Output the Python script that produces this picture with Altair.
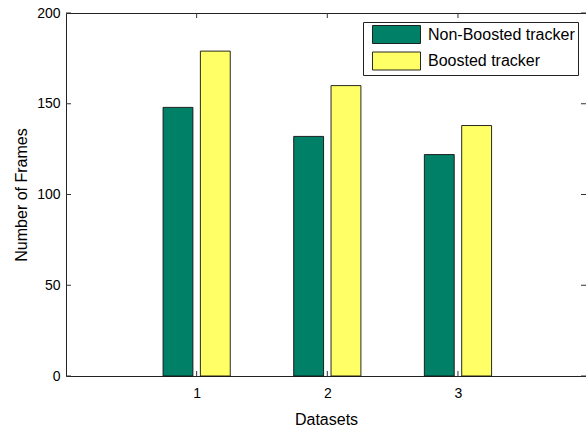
import altair as alt
import pandas as pd

# ---- data ----
datasets = [1, 2, 3]
non_boosted = [148, 132, 122]
boosted = [179, 160, 138]
series_names = ["Non-Boosted tracker", "Boosted tracker"]
series_colors = ["#008066", "#FFFF66"]
y_ticks = [0, 50, 100, 150, 200]
x_ticks = [1, 2, 3]

# ---- layout ----
W, H = 520, 363
FONT = "Liberation Sans"
GROUP_SHIFT = 0.1429   # MATLAB grouped-bar offset
HALF_BAR = 0.1143      # half bar width in data units

rows = []
for d, a, b in zip(datasets, non_boosted, boosted):
    rows.append({"dataset": d, "series": series_names[0], "value": a, "shift": -GROUP_SHIFT})
    rows.append({"dataset": d, "series": series_names[1], "value": b, "shift": GROUP_SHIFT})
df = pd.DataFrame(rows)

xscale = alt.Scale(domain=[0, 3.98], nice=False, zero=False)
yscale = alt.Scale(domain=[0, 200], nice=False)

bars = alt.Chart(df).transform_calculate(
    x0=f"datum.dataset + datum.shift - {HALF_BAR}",
    x1=f"datum.dataset + datum.shift + {HALF_BAR}",
).mark_bar(stroke="#111111", strokeWidth=0.9).encode(
    x=alt.X("x0:Q", scale=xscale,
            axis=alt.Axis(values=x_ticks, title="Datasets", tickSize=0, labelPadding=10,
                          grid=False, domain=True, domainColor="#222222", labelFont=FONT,
                          labelFontSize=14, labelColor="black", titleFont=FONT,
                          titleFontSize=16, titleFontWeight="normal", titleColor="black",
                          titlePadding=11, format="d")),
    x2="x1:Q",
    y=alt.Y("value:Q", scale=yscale,
            axis=alt.Axis(values=y_ticks, title="Number of Frames", tickSize=0, labelPadding=6,
                          grid=False, domain=True, domainColor="#222222", labelFont=FONT,
                          labelFontSize=14, labelColor="black", titleFont=FONT,
                          titleFontSize=16, titleFontWeight="normal", titleColor="black",
                          titlePadding=7)),
    y2=alt.datum(0),
    color=alt.Color("series:N", scale=alt.Scale(domain=series_names, range=series_colors),
                    legend=alt.Legend(title=None, orient="none", legendX=297, legendY=9,
                                      symbolType="M-2.667,-1H2.667V1H-2.667Z", symbolSize=324,
                                      symbolOffset=21,
                                      symbolStrokeColor="#111111", symbolStrokeWidth=0.9,
                                      symbolOpacity=1, labelFont=FONT, labelFontSize=16,
                                      labelColor="black", labelOffset=22, padding=3,
                                      rowPadding=3.5, strokeColor="#222222",
                                      fillColor="white", offset=0)),
)

ydf = pd.DataFrame({"v": y_ticks})
xdf = pd.DataFrame({"v": x_ticks})

yticks_left = alt.Chart(ydf).mark_rule(color="#333333", strokeWidth=1).encode(
    y=alt.Y("v:Q", scale=yscale, axis=None), x=alt.value(0), x2=alt.value(5))
yticks_right = alt.Chart(ydf).mark_rule(color="#333333", strokeWidth=1).encode(
    y=alt.Y("v:Q", scale=yscale, axis=None), x=alt.value(W - 5), x2=alt.value(W))
xticks_bottom = alt.Chart(xdf).mark_rule(color="#333333", strokeWidth=1).encode(
    x=alt.X("v:Q", scale=xscale, axis=None), y=alt.value(H), y2=alt.value(H - 5))
xticks_top = alt.Chart(xdf).mark_rule(color="#333333", strokeWidth=1).encode(
    x=alt.X("v:Q", scale=xscale,
            axis=alt.Axis(orient="top", labels=False, ticks=False, domain=True,
                          domainColor="#222222", grid=False, title=None)),
    y=alt.value(0), y2=alt.value(5))

chart = alt.layer(bars, yticks_left, yticks_right, xticks_bottom, xticks_top).resolve_axis(
    x="independent", y="independent"
).properties(
    width=W, height=H,
    autosize=alt.AutoSizeParams(type="none"),
    padding={"left": 66, "top": 13, "right": 0, "bottom": 55},
).configure_view(stroke=None).configure(background="white")

chart.save("out.html", embed_options={"renderer": "svg", "actions": False})
